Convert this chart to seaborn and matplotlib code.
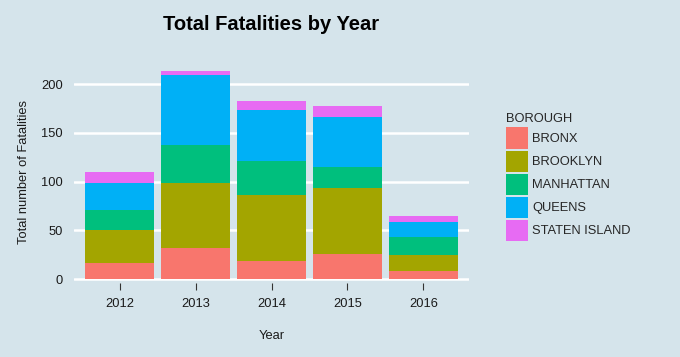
import matplotlib
matplotlib.use("Agg")
import matplotlib.pyplot as plt
import seaborn as sns
import pandas as pd
from matplotlib.patches import Patch

years = ["2012", "2013", "2014", "2015", "2016"]
boroughs = ["BRONX", "BROOKLYN", "MANHATTAN", "QUEENS", "STATEN ISLAND"]
bronx = [16, 32, 18, 26, 8]
brooklyn = [34, 66, 68, 67, 17]
manhattan = [21, 39, 35, 22, 18]
queens = [27, 72, 52, 51, 15]
staten = [12, 4, 10, 11, 7]
colors = ["#F8766D", "#A3A500", "#00BF7D", "#00B0F6", "#E76BF3"]
bg = "#D5E4EB"
fs = 9.3

sns.set_theme(style="white")
plt.rcParams["font.family"] = ["Liberation Sans", "DejaVu Sans"]

rows = []
for b, vals in zip(boroughs, [bronx, brooklyn, manhattan, queens, staten]):
    for y, v in zip(years, vals):
        rows.append({"Year": y, "BOROUGH": b, "n": v})
df = pd.DataFrame(rows)
df["BOROUGH"] = pd.Categorical(df["BOROUGH"], categories=boroughs, ordered=True)
df = df.sort_values(["Year", "BOROUGH"])
df["cum"] = df.groupby("Year")["n"].cumsum()

fig = plt.figure(figsize=(6.8, 3.57), dpi=100, facecolor=bg)
ax = fig.add_axes([74/680, 1-283/357, 395/680, (283-61)/357])
ax.set_facecolor(bg)

for b, c in reversed(list(zip(boroughs, colors))):
    sub = df[df["BOROUGH"] == b]
    sns.barplot(data=sub, x="Year", y="cum", order=years, color=c, width=0.9,
                saturation=1, edgecolor="none", linewidth=0, ax=ax, zorder=3)

ax.set_xlim(-0.6, 4.6)
top = df["cum"].max()
ax.set_ylim(-4.1, top*1.05)
ax.set_yticks([0, 50, 100, 150, 200])
for y in [0, 50, 100, 150, 200]:
    ax.axhline(y, color="white", lw=1.8, zorder=1)
for s in ax.spines.values():
    s.set_visible(False)
ax.tick_params(axis="x", length=5, width=0.8, color="#333333", labelsize=fs, pad=6, bottom=True)
ax.tick_params(axis="y", length=0, labelsize=fs, pad=8)
for lab in ax.get_xticklabels() + ax.get_yticklabels():
    lab.set_color("#1a1a1a")
ax.set_xlabel("Year", fontsize=fs, labelpad=14, color="#1a1a1a")
ax.set_ylabel("Total number of Fatalities", fontsize=fs, labelpad=8, color="#1a1a1a")
fig.text(271/680, 1-24/357, "Total Fatalities by Year", ha="center", va="center",
         fontsize=14.5, fontweight="bold", color="black")

handles = [Patch(facecolor=c, edgecolor="none") for c in colors]
leg = fig.legend(handles, boroughs, title="BOROUGH", loc="upper left",
                 bbox_to_anchor=(500/680, 1-107/357), frameon=False, fontsize=fs,
                 title_fontsize=fs, handlelength=1.65, handleheight=2.13,
                 labelspacing=0.155, handletextpad=0.33, borderpad=0)
leg._legend_box.align = "left"

fig.savefig("out.png", dpi=100, facecolor=bg)
